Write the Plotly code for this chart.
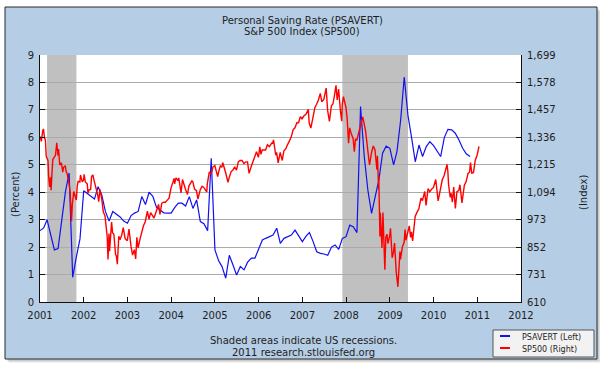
import plotly.graph_objects as go
import pandas as pd

# ---------------- data ----------------
# Personal Saving Rate (PSAVERT), monthly, Jan 2001 .. Nov 2010 (percent)
psavert = [
    2.6, 2.7, 3.0, 2.4, 1.9, 1.95, 3.0, 4.0, 4.7, 0.9, 1.65, 2.3,          # 2001
    4.05, 3.95, 3.85, 3.75, 4.2, 3.9, 3.3, 2.95, 3.3, 3.2, 3.1, 2.95,      # 2002
    2.87, 3.15, 3.24, 3.3, 3.84, 3.55, 4.0, 3.85, 3.45, 3.35, 3.25, 3.24,  # 2003
    3.24, 3.45, 3.6, 3.6, 3.5, 3.84, 3.41, 3.72, 2.93, 2.85, 2.6, 5.24,    # 2004
    1.9, 1.5, 1.29, 0.87, 1.7, 1.35, 0.98, 1.29, 1.17, 1.45, 1.6, 1.6,     # 2005
    1.96, 2.26, 2.32, 2.38, 2.44, 2.69, 2.14, 2.32, 2.38, 2.44, 2.62, 2.4, # 2006
    2.2, 2.4, 2.53, 2.2, 1.83, 1.77, 1.75, 1.7, 2.0, 2.08, 1.92, 2.32,     # 2007
    2.38, 2.8, 2.74, 2.53, 7.12, 5.3, 4.08, 3.23, 3.84, 4.45, 5.42, 5.68,  # 2008
    5.6, 5.0, 5.48, 6.63, 8.2, 6.8, 6.0, 5.11, 5.72, 5.3, 5.66, 5.84,      # 2009
    5.7, 5.5, 5.3, 6.0, 6.29, 6.27, 6.15, 5.9, 5.6, 5.4, 5.3,              # 2010
]
psavert_start = "2001-01-01"

# S&P 500 index (closing values)
sp500_dates = [
    "2001-01-02", "2001-01-05", "2001-01-12", "2001-01-24", "2001-01-30", "2001-02-08", "2001-02-15",
    "2001-02-22", "2001-02-28", "2001-03-09", "2001-03-14", "2001-03-22", "2001-03-30", "2001-04-04",
    "2001-04-10", "2001-04-18", "2001-04-30", "2001-05-10", "2001-05-21", "2001-05-31", "2001-06-05",
    "2001-06-15", "2001-06-29", "2001-07-10", "2001-07-16", "2001-07-31", "2001-08-08", "2001-08-15",
    "2001-08-31", "2001-09-10", "2001-09-21", "2001-09-28", "2001-10-10", "2001-10-15", "2001-10-31",
    "2001-11-08", "2001-11-15", "2001-11-30", "2001-12-05", "2001-12-20", "2001-12-31",
    "2002-01-04", "2002-01-15", "2002-01-31", "2002-02-05", "2002-02-15", "2002-02-28", "2002-03-08",
    "2002-03-19", "2002-03-28", "2002-04-08", "2002-04-15", "2002-04-30", "2002-05-06", "2002-05-17",
    "2002-05-31", "2002-06-14", "2002-06-28", "2002-07-10", "2002-07-16", "2002-07-23", "2002-07-31",
    "2002-08-05", "2002-08-22", "2002-08-30", "2002-09-10", "2002-09-24", "2002-09-30", "2002-10-09",
    "2002-10-21", "2002-10-31", "2002-11-14", "2002-11-27", "2002-12-13", "2002-12-31",
    "2003-01-14", "2003-01-31", "2003-02-13", "2003-02-28", "2003-03-11", "2003-03-21", "2003-03-31",
    "2003-04-15", "2003-04-30", "2003-05-15", "2003-05-30", "2003-06-17", "2003-06-30", "2003-07-14",
    "2003-07-31", "2003-08-11", "2003-08-29", "2003-09-18", "2003-09-30", "2003-10-15", "2003-10-31",
    "2003-11-14", "2003-11-28", "2003-12-15", "2003-12-31",
    "2004-01-26", "2004-01-30", "2004-02-11", "2004-02-27", "2004-03-05", "2004-03-24", "2004-03-31",
    "2004-04-05", "2004-04-30", "2004-05-17", "2004-05-28", "2004-06-23", "2004-06-30", "2004-07-15",
    "2004-07-30", "2004-08-12", "2004-08-31", "2004-09-15", "2004-09-30", "2004-10-25", "2004-10-29",
    "2004-11-15", "2004-11-30", "2004-12-15", "2004-12-31",
    "2005-01-24", "2005-01-31", "2005-02-15", "2005-02-28", "2005-03-07", "2005-03-31", "2005-04-20",
    "2005-04-29", "2005-05-16", "2005-05-31", "2005-06-15", "2005-06-30", "2005-07-15", "2005-07-29",
    "2005-08-15", "2005-08-31", "2005-09-15", "2005-09-30", "2005-10-13", "2005-10-31", "2005-11-15",
    "2005-11-30", "2005-12-14", "2005-12-30",
    "2006-01-11", "2006-01-20", "2006-01-31", "2006-02-15", "2006-02-28", "2006-03-15", "2006-03-31",
    "2006-04-20", "2006-04-28", "2006-05-05", "2006-05-24", "2006-05-31", "2006-06-13", "2006-06-30",
    "2006-07-17", "2006-07-31", "2006-08-15", "2006-08-31", "2006-09-15", "2006-09-29", "2006-10-16",
    "2006-10-31", "2006-11-17", "2006-11-30", "2006-12-15", "2006-12-29",
    "2007-01-15", "2007-01-31", "2007-02-20", "2007-02-27", "2007-03-13", "2007-03-30", "2007-04-16",
    "2007-04-30", "2007-05-15", "2007-05-31", "2007-06-12", "2007-06-29", "2007-07-19", "2007-07-31",
    "2007-08-15", "2007-08-31", "2007-09-14", "2007-09-28", "2007-10-09", "2007-10-19", "2007-10-31",
    "2007-11-15", "2007-11-26", "2007-11-30", "2007-12-10", "2007-12-31",
    "2008-01-10", "2008-01-22", "2008-01-31", "2008-02-15", "2008-02-29", "2008-03-10", "2008-03-20",
    "2008-03-31", "2008-04-15", "2008-04-30", "2008-05-19", "2008-05-30", "2008-06-13", "2008-06-30",
    "2008-07-15", "2008-07-31", "2008-08-15", "2008-08-29", "2008-09-15", "2008-09-19", "2008-09-29",
    "2008-09-30", "2008-10-10", "2008-10-13", "2008-10-27", "2008-10-31", "2008-11-04", "2008-11-20",
    "2008-11-28", "2008-12-08", "2008-12-15", "2008-12-31",
    "2009-01-06", "2009-01-20", "2009-01-30", "2009-02-09", "2009-02-23", "2009-03-09", "2009-03-26",
    "2009-03-31", "2009-04-15", "2009-04-30", "2009-05-08", "2009-05-15", "2009-05-29", "2009-06-12",
    "2009-06-23", "2009-06-30", "2009-07-10", "2009-07-31", "2009-08-14", "2009-08-31", "2009-09-18",
    "2009-09-30", "2009-10-19", "2009-10-30", "2009-11-16", "2009-11-30", "2009-12-15", "2009-12-31",
    "2010-01-19", "2010-02-08", "2010-02-26", "2010-03-15", "2010-03-31", "2010-04-23", "2010-04-30",
    "2010-05-06", "2010-05-20", "2010-05-28", "2010-06-07", "2010-06-18", "2010-07-02", "2010-07-15",
    "2010-07-30", "2010-08-09", "2010-08-26", "2010-09-15", "2010-09-30", "2010-10-15", "2010-10-29",
    "2010-11-05", "2010-11-16", "2010-11-30", "2010-12-15", "2010-12-31",
    "2011-01-14", "2011-01-18",
]
sp500_values = [
    1340, 1330, 1318, 1365, 1373, 1332, 1326, 1252, 1240, 1233, 1166, 1117, 1160, 1103,
    1168, 1238, 1249, 1256, 1312, 1256, 1284, 1214, 1224, 1182, 1203, 1211, 1183, 1178,
    1134, 1092, 966, 1041, 1097, 1090, 1060, 1120, 1142, 1139, 1170, 1140, 1148,
    1173, 1139, 1130, 1090, 1104, 1106, 1164, 1170, 1147, 1125, 1102, 1077, 1052, 1106,
    1067, 1007, 990, 921, 900, 797, 912, 834, 962, 916, 909, 819, 815, 777,
    900, 885, 904, 938, 889, 880,
    931, 856, 817, 841, 800, 895, 848, 885, 917, 946, 964, 1011, 975, 1004,
    990, 980, 1008, 1040, 996, 1046, 1050, 1050, 1058, 1068, 1112,
    1155, 1131, 1157, 1145, 1157, 1091, 1126, 1150, 1107, 1084, 1121, 1144, 1141, 1107,
    1102, 1064, 1104, 1120, 1115, 1095, 1130, 1184, 1174, 1205, 1212,
    1163, 1181, 1210, 1204, 1225, 1181, 1138, 1156, 1185, 1192, 1206, 1191, 1228, 1234,
    1234, 1220, 1228, 1228, 1177, 1207, 1233, 1249, 1272, 1248,
    1294, 1261, 1280, 1280, 1280, 1303, 1295, 1311, 1310, 1325, 1257, 1270, 1223, 1270,
    1234, 1277, 1285, 1304, 1320, 1336, 1369, 1378, 1401, 1400, 1427, 1418,
    1431, 1438, 1459, 1399, 1377, 1420, 1468, 1482, 1501, 1530, 1493, 1503, 1553, 1455,
    1406, 1474, 1484, 1527, 1565, 1501, 1549, 1451, 1407, 1481, 1515, 1468,
    1420, 1310, 1378, 1349, 1331, 1273, 1329, 1323, 1351, 1386, 1426, 1400, 1360, 1280,
    1214, 1267, 1298, 1283, 1193, 1255, 1106, 1166, 899, 1003, 848, 968, 1005, 752,
    896, 909, 868, 903,
    935, 805, 826, 870, 743, 677, 832, 798, 852, 873, 929, 882, 919, 946,
    895, 919, 879, 987, 1004, 1021, 1068, 1057, 1097, 1036, 1110, 1096, 1107, 1115,
    1150, 1056, 1104, 1150, 1169, 1217, 1187, 1128, 1071, 1089, 1050, 1117, 1022, 1096,
    1101, 1127, 1047, 1125, 1141, 1176, 1183, 1225, 1178, 1180, 1235, 1258,
    1293, 1295,
]

recessions = [("2001-03-01", "2001-11-01"), ("2007-12-01", "2009-06-01")]
years = list(range(2001, 2013))
left_ticks = list(range(0, 10))
right_ticks = [610, 731, 852, 973, 1094, 1215, 1336, 1457, 1578, 1699]

# ---------------- layout helpers ----------------
W, H = 600, 375
ML, MR, MT, MB = 40, 79, 55, 73
PW, PH = W - ML - MR, H - MT - MB


def px_x(px):
    return (px - ML) / PW


def px_y(py):
    return (H - MB - py) / PH


FONT = "DejaVu Sans"
TXT = "#1e1e1e"
BLUEBG = "#B5CDE5"

psavert_dates = pd.date_range(psavert_start, periods=len(psavert), freq="MS")

fig = go.Figure()
fig.add_trace(go.Scatter(x=psavert_dates, y=psavert, mode="lines", name="PSAVERT (Left)",
                         line=dict(color="#1010F0", width=1.2), yaxis="y"))
fig.add_trace(go.Scatter(x=pd.to_datetime(sp500_dates), y=sp500_values, mode="lines",
                         name="SP500 (Right)", line=dict(color="#FF0000", width=1.4), yaxis="y2"))

shapes = []
# shadow of the frame
for off, a in [(4, 0.05), (3, 0.07), (2, 0.09)]:
    shapes.append(dict(type="rect", xref="paper", yref="paper", layer="below",
                       x0=px_x(5 + off), x1=px_x(597 + off), y0=px_y(359 + off), y1=px_y(7 + off),
                       fillcolor=f"rgba(0,0,0,{a})", line=dict(width=0)))
# blue frame
shapes.append(dict(type="rect", xref="paper", yref="paper", layer="below",
                   x0=px_x(5), x1=px_x(597), y0=px_y(359), y1=px_y(7),
                   fillcolor=BLUEBG, line=dict(color="#2a2a2a", width=1)))
# plot area
shapes.append(dict(type="rect", xref="paper", yref="paper", layer="below",
                   x0=0, x1=1, y0=0, y1=1, fillcolor="white", line=dict(width=0)))
# recessions
for s, e in recessions:
    shapes.append(dict(type="rect", xref="x", yref="paper", layer="between",
                       x0=s, x1=e, y0=0, y1=1, fillcolor="#C0C0C0", line=dict(width=0)))
# legend box
shapes.append(dict(type="rect", xref="paper", yref="paper", layer="above",
                   x0=px_x(493), x1=px_x(594), y0=px_y(357), y1=px_y(330),
                   fillcolor="#F2F2F2", line=dict(color="#555555", width=1)))
shapes.append(dict(type="line", xref="paper", yref="paper", x0=px_x(500), x1=px_x(510),
                   y0=px_y(336), y1=px_y(336), line=dict(color="#1010F0", width=2)))
shapes.append(dict(type="line", xref="paper", yref="paper", x0=px_x(500), x1=px_x(510),
                   y0=px_y(348), y1=px_y(348), line=dict(color="#FF0000", width=2)))

annotations = [
    dict(text="Personal Saving Rate (PSAVERT)", x=px_x(302), y=px_y(20)),
    dict(text="S&amp;P 500 Index (SP500)", x=px_x(302), y=px_y(32)),
    dict(text="Shaded areas indicate US recessions.", x=px_x(303), y=px_y(340)),
    dict(text="2011 research.stlouisfed.org", x=px_x(303), y=px_y(352)),
    dict(text="(Percent)", x=px_x(15), y=px_y(194), textangle=-90),
    dict(text="(Index)", x=px_x(583), y=px_y(193), textangle=-90),
]
for a in annotations:
    a.update(xref="paper", yref="paper", showarrow=False, xanchor="center", yanchor="middle",
             font=dict(family=FONT, size=10, color=TXT))
annotations += [
    dict(text="PSAVERT (Left)", x=px_x(520), y=px_y(337)),
    dict(text="SP500 (Right)", x=px_x(520), y=px_y(349)),
]
for a in annotations[-2:]:
    a.update(xref="paper", yref="paper", showarrow=False, xanchor="left", yanchor="middle",
             font=dict(family=FONT, size=8, color=TXT))

axis_common = dict(ticks="inside", ticklen=5, tickcolor="#111111", showline=True,
                   linecolor="#111111", linewidth=1, zeroline=False,
                   tickfont=dict(family=FONT, size=10, color=TXT))

fig.update_layout(
    width=W, height=H, margin=dict(l=ML, r=MR, t=MT, b=MB),
    paper_bgcolor="white", plot_bgcolor="white", showlegend=False,
    shapes=shapes, annotations=annotations,
    xaxis=dict(type="date", range=[f"{years[0]}-01-01", f"{years[-1]}-01-01"],
               tickvals=[f"{y}-01-01" for y in years], ticktext=[str(y) for y in years],
               showgrid=False, ticklabelstandoff=4, **axis_common),
    yaxis=dict(range=[0, 9], tickvals=left_ticks, ticktext=[str(v) for v in left_ticks],
               showgrid=True, gridcolor="#ABABAB", gridwidth=1, ticklabelstandoff=3, **axis_common),
    yaxis2=dict(range=[right_ticks[0], right_ticks[-1]], overlaying="y", side="right",
                tickvals=right_ticks, ticktext=[f"{v:,}" for v in right_ticks],
                showgrid=False, ticklabelstandoff=3, **axis_common),
)

fig.write_html("out.html", config={"displayModeBar": False},
               post_script="document.body.style.margin='0px';document.body.style.padding='0px';")
